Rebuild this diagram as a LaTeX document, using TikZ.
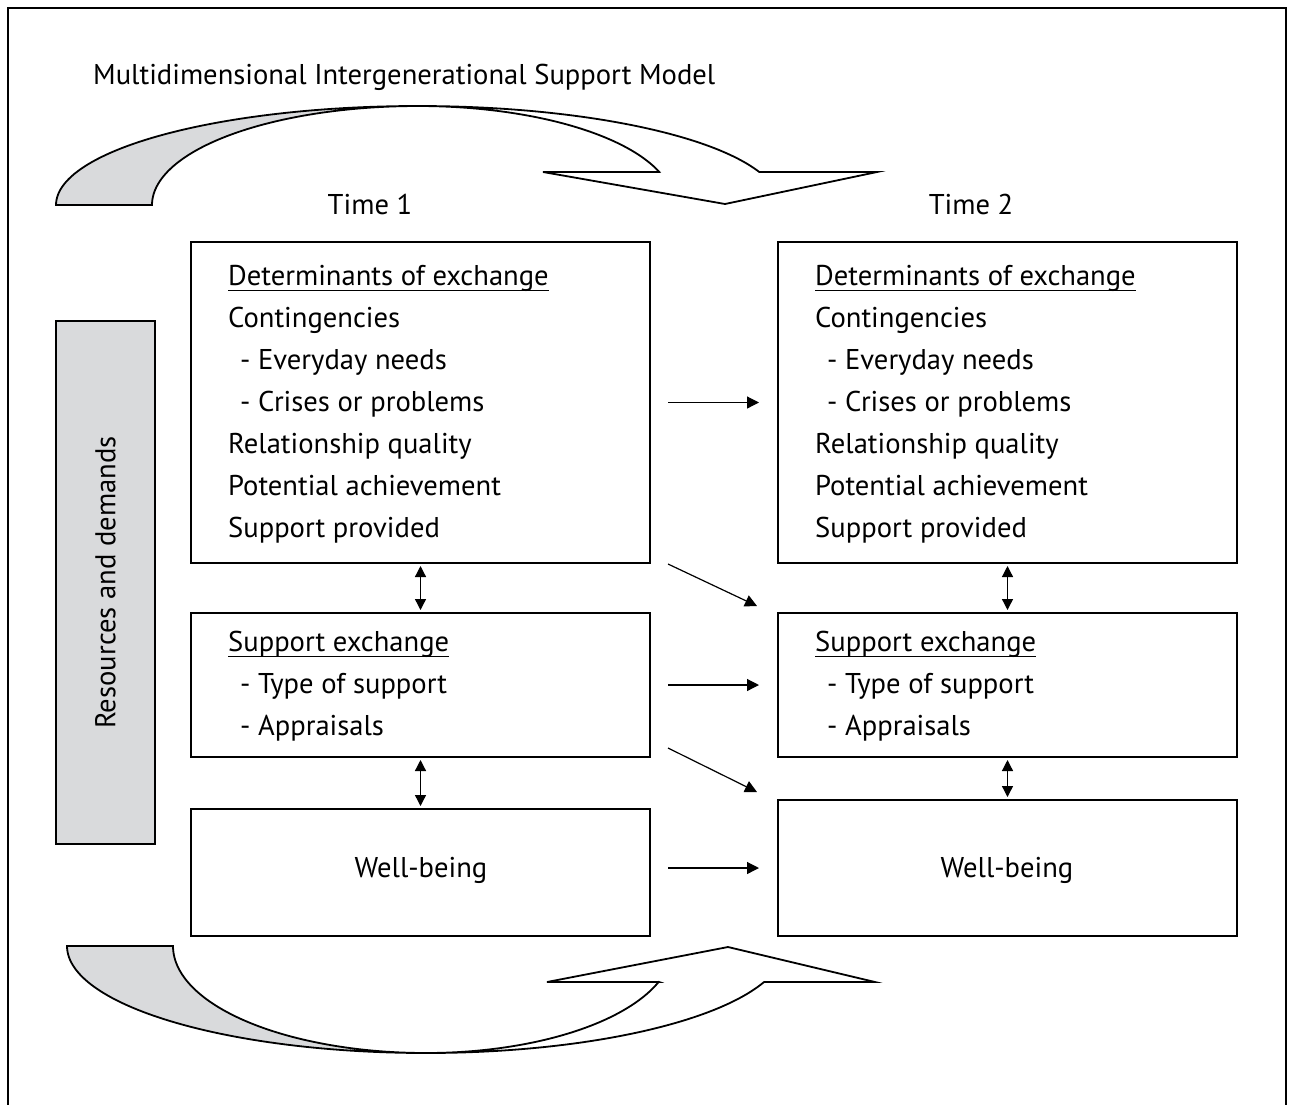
\documentclass[tikz,border=0pt]{standalone}
\usepackage{fontspec}
\setmainfont{PT Sans}
\usetikzlibrary{arrows.meta}
\definecolor{band}{RGB}{217,218,220}
\newcommand\myul[1]{\setbox0\hbox{#1}\rlap{\rule[-6pt]{\wd0}{1.4pt}}\box0}
\begin{document}
\begin{tikzpicture}[x=1pt,y=-1pt,font=\fontsize{28.6}{34}\selectfont,
  box/.style={draw,line width=2pt,rectangle,inner sep=0pt},
  txt/.style={anchor=base west,inner sep=0pt},
  ctr/.style={anchor=base,inner sep=0pt},
  arr/.style={line width=1.2pt,-{Triangle[length=12pt,width=12pt]}},
  darr/.style={line width=1.3pt,{Triangle[length=11pt,width=11pt]}-{Triangle[length=11pt,width=11pt]}},
  ribbon/.style={draw,line width=1.8pt,line join=miter}]
\useasboundingbox (0,0) rectangle (1290,1104);
\clip (0,0) rectangle (1290,1104);
% outer frame
\draw[line width=2pt] (8,1120) -- (8,8) -- (1286,8) -- (1286,1120);
% top curved arrow
\path[ribbon,fill=band] plot[variable=\t,domain=180:90,samples=60] ({418+362*cos(\t)},{205-99*sin(\t)})
  -- plot[variable=\t,domain=90:180,samples=60] ({418+266*cos(\t)},{205-99*sin(\t)}) -- cycle;
\path[ribbon,fill=white] plot[variable=\t,domain=90:19.5,samples=60] ({418+362*cos(\t)},{205-99*sin(\t)})
  -- (877,172) -- (725,204) -- (543,172) -- (659,172)
  -- plot[variable=\t,domain=19.5:90,samples=60] ({418+256*cos(\t)},{205-99*sin(\t)}) -- cycle;
% bottom curved arrow
\path[ribbon,fill=band] plot[variable=\t,domain=180:90,samples=60] ({426+359*cos(\t)},{946+107*sin(\t)})
  -- plot[variable=\t,domain=90:180,samples=60] ({426+253*cos(\t)},{946+107*sin(\t)}) -- cycle;
\path[ribbon,fill=white] plot[variable=\t,domain=90:19.6,samples=60] ({426+359*cos(\t)},{946+107*sin(\t)})
  -- (875,982) -- (728,947) -- (547,982) -- (659,982)
  -- plot[variable=\t,domain=19.6:90,samples=60] ({426+247*cos(\t)},{946+107*sin(\t)}) -- cycle;
% labels
\node[txt] (title) at (93,84) {Multidimensional Intergenerational Support Model};
\node[ctr] (time1) at (370,214) {Time 1};
\node[ctr] (time2) at (971,214) {Time 2};
% resources box
\node[box,fill=band,minimum width=99pt,minimum height=523pt] (res) at (105.5,582.5) {};
\node[rotate=90,inner sep=0pt] (restext) at (res.center) {Resources and demands};
% boxes
\node[box,minimum width=459pt,minimum height=321pt] (L1) at (420.5,402.5) {};
\node[box,minimum width=459pt,minimum height=144pt] (L2) at (420.5,685) {};
\node[box,minimum width=459pt,minimum height=127pt] (L3) at (420.5,872.5) {};
\node[box,minimum width=459pt,minimum height=321pt] (R1) at (1007.5,402.5) {};
\node[box,minimum width=459pt,minimum height=144pt] (R2) at (1007.5,685) {};
\node[box,minimum width=459pt,minimum height=136pt] (R3) at (1007.5,868) {};
% left texts
\node[txt] (la1) at (228,285) {\myul{Determinants of exchange}};
\node[txt] (la2) at (228,327) {Contingencies};
\node[txt] (la3) at (240,369) {- Everyday needs};
\node[txt] (la4) at (240,411) {- Crises or problems};
\node[txt] (la5) at (228,453) {Relationship quality};
\node[txt] (la6) at (228,495) {Potential achievement};
\node[txt] (la7) at (228,537) {Support provided};
\node[txt] (lb1) at (228,651) {\myul{Support exchange}};
\node[txt] (lb2) at (240,693) {- Type of support};
\node[txt] (lb3) at (240,735) {- Appraisals};
\node[ctr] (lc1) at (421,877) {Well-being};
% right texts
\node[txt] (ra1) at (815,285) {\myul{Determinants of exchange}};
\node[txt] (ra2) at (815,327) {Contingencies};
\node[txt] (ra3) at (827,369) {- Everyday needs};
\node[txt] (ra4) at (827,411) {- Crises or problems};
\node[txt] (ra5) at (815,453) {Relationship quality};
\node[txt] (ra6) at (815,495) {Potential achievement};
\node[txt] (ra7) at (815,537) {Support provided};
\node[txt] (rb1) at (815,651) {\myul{Support exchange}};
\node[txt] (rb2) at (827,693) {- Type of support};
\node[txt] (rb3) at (827,735) {- Appraisals};
\node[ctr] (rc1) at (1007,877) {Well-being};
% connectors
\draw[arr] ([xshift=17pt]L1.east) -- ([xshift=-18pt]R1.west);
\draw[arr] ([xshift=17pt]L2.east) -- ([xshift=-18pt]R2.west);
\draw[arr] ([xshift=17pt]L3.east |- R3.west) -- ([xshift=-18pt]R3.west);
\draw[arr] ([xshift=17pt]L1.south east) -- ([xshift=-20pt,yshift=6pt]R2.north west);
\draw[arr] ([xshift=17pt,yshift=10pt]L2.south east) -- ([xshift=-20pt,yshift=7pt]R3.north west);
\draw[darr] ([yshift=-2pt]L1.south) -- ([yshift=2pt]L2.north);
\draw[darr] ([yshift=-2pt]L2.south) -- ([yshift=2pt]L3.north);
\draw[darr] ([yshift=-2pt]R1.south) -- ([yshift=2pt]R2.north);
\draw[darr] ([yshift=-2pt]R2.south) -- ([yshift=2pt]R3.north);
\end{tikzpicture}
\end{document}
